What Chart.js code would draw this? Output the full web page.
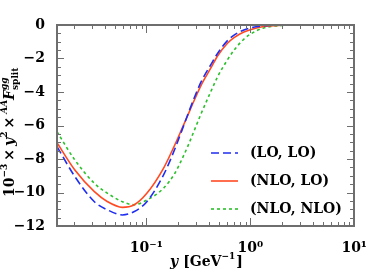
<!DOCTYPE html>
<html>
<head>
<meta charset="utf-8">
<script src="https://cdn.jsdelivr.net/npm/chart.js@4"></script>
<style>
  html, body { margin: 0; padding: 0; background: #fff; }
  #wrap { width: 373px; height: 278px; }
</style>
</head>
<body>
<div id="wrap"><canvas id="splitChart" width="373" height="278"></canvas></div>
<script>
// y values in GeV^-1
const yValues = [0.0138, 0.0205, 0.0316, 0.0423, 0.0587, 0.0758, 0.101, 0.146, 0.188, 0.218, 0.252, 0.291, 0.336, 0.419, 0.484, 0.60, 0.698, 0.867, 1.0, 1.34, 2.0, 3.0, 10];

const loLo = [-7.26, -9.05, -10.55, -11.04, -11.34, -11.15, -10.55, -8.96, -7.4, -6.35, -5.3, -4.3, -3.4, -2.35, -1.7, -0.95, -0.6, -0.3, -0.18, -0.05, 0, 0, 0];
const nloLo = [-7.03, -8.66, -9.95, -10.55, -10.89, -10.75, -10.05, -8.56, -7.15, -6.25, -5.35, -4.45, -3.6, -2.55, -1.85, -1.1, -0.75, -0.42, -0.28, -0.09, -0.015, 0, 0];
const nloNlo = [-6.37, -8.06, -9.45, -10.05, -10.55, -10.73, -10.45, -9.75, -8.85, -8.06, -7.2, -6.25, -5.3, -3.95, -3.1, -2.1, -1.5, -0.85, -0.55, -0.18, -0.03, 0, 0];

const seriesNames = ['(LO, LO)', '(NLO, LO)', '(NLO, NLO)'];
const yTicks = [-12, -10, -8, -6, -4, -2, 0];
const xTicks = [0.1, 1, 10];
const xTickLabels = ['10\u207B\u00B9', '10\u2070', '10\u00B9'];

const serif = '"DejaVu Serif", "Liberation Serif", serif';
const frameColor = 'rgb(110, 110, 110)';

function toPoints(vals) {
  return yValues.map((x, i) => ({ x: x, y: vals[i] }));
}

// frame with inward ticks on all four sides
function drawFrame(chart) {
  const c = chart.ctx;
  const xs = chart.scales.x;
  const ys = chart.scales.y;
  const left = Math.round(xs.left), right = Math.round(xs.right);
  const top = Math.round(ys.top), bottom = Math.round(ys.bottom);
  c.save();
  c.globalAlpha = 1;
  c.globalCompositeOperation = 'source-over';
  c.fillStyle = frameColor;
  for (let k = 0; k <= 24; k++) {
    const p = Math.round(ys.getPixelForValue(-12 + k * 0.5));
    const len = (k % 4 === 0) ? 7 : 4;
    c.fillRect(left, p, len, 1);
    c.fillRect(right - len, p, len, 1);
  }
  for (let e = -2; e <= 1; e++) {
    for (let m = 1; m <= 9; m++) {
      const v = m * Math.pow(10, e);
      if (v < xs.min || v > xs.max) continue;
      const p = Math.round(xs.getPixelForValue(v));
      const len = (m === 1) ? 8 : 4;
      c.fillRect(p, bottom - len, 1, len);
      c.fillRect(p, top, 1, len);
    }
  }
  c.fillRect(left - 1, top - 1, right - left + 2, 2);
  c.fillRect(left - 1, bottom - 1, right - left + 2, 2);
  c.fillRect(left - 1, top - 1, 2, bottom - top + 2);
  c.fillRect(right - 1, top - 1, 2, bottom - top + 2);
  c.restore();
}

function drawLegend(chart) {
  const c = chart.ctx;
  c.save();
  chart.data.datasets.forEach((ds, i) => {
    const yy = 153 + i * 28;
    c.strokeStyle = ds.borderColor;
    c.lineWidth = ds.borderWidth;
    c.setLineDash(ds.borderDash || []);
    c.beginPath();
    c.moveTo(211, yy); c.lineTo(238, yy);
    c.stroke();
    c.setLineDash([]);
    c.fillStyle = '#000';
    c.font = 'bold 14px ' + serif;
    c.textBaseline = 'middle';
    c.textAlign = 'left';
    c.fillText(ds.label, 250, yy);
  });
  c.restore();
}

function drawTitles(chart) {
  const c = chart.ctx;
  c.save();
  c.fillStyle = '#000';
  c.textBaseline = 'alphabetic';
  c.textAlign = 'left';

  // x title
  let x = 170;
  const by = 266;
  c.font = 'italic bold 14px ' + serif;
  c.fillText('y', x, by); x += c.measureText('y').width + 5;
  c.font = 'bold 14px ' + serif;
  c.fillText('[GeV', x, by); x += c.measureText('[GeV').width;
  c.font = 'bold 9px ' + serif;
  c.fillText('\u22121', x, by - 7); x += c.measureText('\u22121').width + 1;
  c.font = 'bold 14px ' + serif;
  c.fillText(']', x, by);

  // y title, rotated
  c.translate(14, 197);
  c.rotate(-Math.PI / 2);
  x = 0;
  c.font = 'bold 14px ' + serif;
  c.fillText('10', x, 0); x += c.measureText('10').width;
  c.font = 'bold 9px ' + serif;
  c.fillText('\u22123', x, -7); x += c.measureText('\u22123').width + 3;
  c.font = 'bold 14px ' + serif;
  c.fillText('\u00D7', x, 0); x += c.measureText('\u00D7').width + 3;
  c.font = 'italic bold 14px ' + serif;
  c.fillText('y', x, 0); x += c.measureText('y').width;
  c.font = 'bold 9px ' + serif;
  c.fillText('2', x, -7); x += c.measureText('2').width + 3;
  c.font = 'bold 14px ' + serif;
  c.fillText('\u00D7', x, 0); x += c.measureText('\u00D7').width + 3;
  c.font = 'italic bold 9px ' + serif;
  c.fillText('AA', x, -7); x += c.measureText('AA').width;
  c.font = 'italic bold 14px ' + serif;
  c.fillText('F', x, 0); x += c.measureText('F').width;
  c.font = 'italic bold 9px ' + serif;
  c.fillText('gg', x, -7);
  c.font = 'bold 9px ' + serif;
  c.fillText('split', x, 4);
  c.restore();
}

const decorPlugin = {
  id: 'decor',
  afterDraw(chart) {
    drawFrame(chart);
    drawLegend(chart);
    drawTitles(chart);
  }
};

const ctx = document.getElementById('splitChart').getContext('2d');
const splitChart = new Chart(ctx, {
  type: 'line',
  data: {
    datasets: [
      {
        label: seriesNames[0],
        data: toPoints(loLo),
        borderColor: '#1f2ef0',
        borderWidth: 1.6,
        borderDash: [8, 4]
      },
      {
        label: seriesNames[1],
        data: toPoints(nloLo),
        borderColor: '#ff4a22',
        borderWidth: 1.6
      },
      {
        label: seriesNames[2],
        data: toPoints(nloNlo),
        borderColor: '#2cc12c',
        borderWidth: 1.6,
        borderDash: [3, 3]
      }
    ]
  },
  options: {
    responsive: false,
    animation: false,
    devicePixelRatio: 1,
    layout: { padding: { top: 25, right: 14, left: 0, bottom: 0 } },
    elements: {
      point: { radius: 0 },
      line: { cubicInterpolationMode: 'monotone', fill: false }
    },
    scales: {
      x: {
        type: 'logarithmic',
        min: 0.0138,
        max: 10,
        afterFit(scale) { scale.height = 52; },
        afterBuildTicks(scale) { scale.ticks = xTicks.map(v => ({ value: v })); },
        grid: { display: false },
        border: { display: true, color: frameColor, width: 2 },
        ticks: {
          color: '#000',
          font: { family: serif, size: 14, weight: 'bold' },
          padding: 6,
          maxRotation: 0,
          autoSkip: false,
          callback: (v) => xTickLabels[xTicks.indexOf(v)]
        }
      },
      y: {
        min: -12,
        max: 0,
        afterFit(scale) { scale.width = 57; },
        afterBuildTicks(scale) { scale.ticks = yTicks.map(v => ({ value: v })); },
        grid: { display: false },
        border: { display: true, color: frameColor, width: 2 },
        ticks: {
          color: '#000',
          font: { family: serif, size: 14, weight: 'bold' },
          padding: 4,
          callback: (v) => String(v).replace('-', '\u2212')
        }
      }
    },
    plugins: {
      legend: { display: false },
      tooltip: { enabled: false }
    }
  },
  plugins: [decorPlugin]
});
</script>
</body>
</html>
